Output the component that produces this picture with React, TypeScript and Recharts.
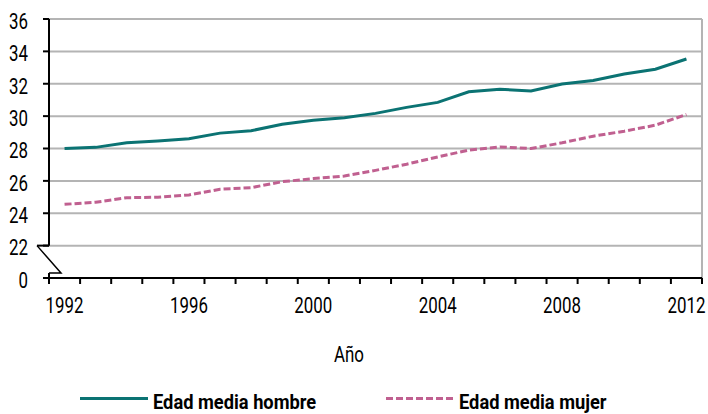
import { LineChart, Line, XAxis, YAxis, CartesianGrid, Legend, ReferenceArea, ReferenceLine } from "recharts";

const years = [1992, 1993, 1994, 1995, 1996, 1997, 1998, 1999, 2000, 2001, 2002, 2003, 2004, 2005, 2006, 2007, 2008, 2009, 2010, 2011, 2012];
const hombre = [28.0, 28.07, 28.35, 28.47, 28.6, 28.95, 29.1, 29.5, 29.75, 29.9, 30.17, 30.54, 30.85, 31.5, 31.66, 31.56, 31.98, 32.2, 32.6, 32.9, 33.53];
const mujer = [24.55, 24.68, 24.96, 24.99, 25.13, 25.48, 25.58, 25.95, 26.14, 26.3, 26.65, 27.03, 27.48, 27.9, 28.1, 28.0, 28.35, 28.76, 29.07, 29.44, 30.1];
// 20 stands in for the "0" below the axis break
const yTicks = [20, 22, 24, 26, 28, 30, 32, 34, 36];
const yearLabels = [1992, 1996, 2000, 2004, 2008, 2012];

const data = years.map((year, i) => ({ year, hombre: hombre[i], mujer: mujer[i] }));
const edges = [...years.map((y) => y - 0.5), years[years.length - 1] + 0.5];

const series = [
  { key: "hombre", name: "Edad media hombre", color: "#0b7373", dash: undefined as string | undefined },
  { key: "mujer", name: "Edad media mujer", color: "#c06090", dash: "7 3" },
];

const W = 708;
const H = 414;
const FONT = "Roboto, sans-serif";
const SQUEEZE = 0.75; // no condensed face installed, so squash horizontally

const NarrowText = ({ x, y, anchor, children, size = 22.5, weight = 400 }: any) => (
  <g transform={`translate(${x},${y}) scale(${SQUEEZE},1)`}>
    <text x={0} y={0} textAnchor={anchor} dominantBaseline="central" fill="#000" fontSize={size} fontWeight={weight} fontFamily={FONT}>
      {children}
    </text>
  </g>
);

const YTick = (p: any) => (
  <NarrowText x={p.x} y={p.y + 2.5} anchor="end">
    {p.payload.value === 20 ? "0" : p.payload.value}
  </NarrowText>
);

const XTick = (p: any) => (
  <NarrowText x={p.x} y={p.y + 16} anchor="middle">
    {p.payload.value}
  </NarrowText>
);

const XTitle = (p: any) => {
  const vb = p.viewBox;
  return (
    <NarrowText x={W / 2 - 5} y={vb.y + vb.height - 27} anchor="middle">
      Año
    </NarrowText>
  );
};

const AxisSegment = (p: any) => (
  <line x1={p.x} y1={p.y} x2={p.x} y2={p.y + p.height} stroke="#000" strokeWidth={2} />
);

const AxisBreak = (p: any) => {
  const { x, y, height } = p;
  const k = y + height - 5;
  return (
    <g fill="none" stroke="#000">
      <line x1={x - 12} y1={y} x2={x} y2={y} strokeWidth={2} />
      <polyline points={`${x - 12},${y} ${x + 12},${k} ${x},${k}`} strokeWidth={1.5} />
      <line x1={x} y1={k} x2={x} y2={y + height} strokeWidth={2} />
    </g>
  );
};

const LegendContent = () => (
  <div style={{ display: "flex", justifyContent: "center", gap: 70, paddingTop: 8, fontFamily: FONT, fontWeight: 700, fontSize: 21, lineHeight: "25px", color: "#000" }}>
    {series.map((s) => (
      <div key={s.key} style={{ display: "flex", alignItems: "center", gap: 5 }}>
        <svg width={68} height={12}>
          <line x1={0} y1={1.5} x2={68} y2={1.5} stroke={s.color} strokeWidth={3} strokeDasharray={s.dash} />
        </svg>
        <div style={{ width: 163, whiteSpace: "nowrap" }}>
          <span style={{ display: "inline-block", transform: "scaleX(0.87)", transformOrigin: "left center" }}>{s.name}</span>
        </div>
      </div>
    ))}
  </div>
);

export default function App() {
  return (
    <div style={{ position: "absolute", left: 0, top: 0, background: "#fff" }}>
      <LineChart width={W} height={H} data={data} margin={{ top: 19, right: 6, left: 0, bottom: 0 }}>
        <CartesianGrid vertical={false} horizontalValues={yTicks.slice(1)} stroke="#b4b4b4" strokeWidth={2} />
        <XAxis
          type="number"
          dataKey="year"
          domain={[edges[0], edges[edges.length - 1]]}
          ticks={edges}
          interval={0}
          tick={() => <g />}
          tickSize={6}
          height={6}
          axisLine={{ stroke: "#000", strokeWidth: 2 }}
          tickLine={{ stroke: "#000", strokeWidth: 2 }}
        />
        <XAxis
          xAxisId="labels"
          type="number"
          dataKey="year"
          domain={[edges[0], edges[edges.length - 1]]}
          ticks={yearLabels}
          interval={0}
          height={98}
          axisLine={false}
          tickLine={false}
          tickMargin={0}
          tick={XTick}
          label={<XTitle />}
        />
        <YAxis
          domain={[20, 36]}
          ticks={yTicks}
          interval={0}
          width={49}
          axisLine={false}
          tickSize={6}
          tickMargin={15}
          tickLine={{ stroke: "#000", strokeWidth: 2 }}
          tick={YTick}
        />
        <ReferenceLine x={edges[edges.length - 1]} stroke="#b4b4b4" strokeWidth={2} />
        <ReferenceArea y1={22} y2={36} shape={AxisSegment} ifOverflow="visible" />
        <ReferenceArea y1={20} y2={22} shape={AxisBreak} ifOverflow="visible" />
        {series.map((s) => (
          <Line
            key={s.key}
            type="linear"
            dataKey={s.key}
            name={s.name}
            stroke={s.color}
            strokeWidth={3}
            strokeDasharray={s.dash}
            dot={false}
            isAnimationActive={false}
          />
        ))}
        <Legend verticalAlign="bottom" height={32} content={LegendContent} />
      </LineChart>
    </div>
  );
}
